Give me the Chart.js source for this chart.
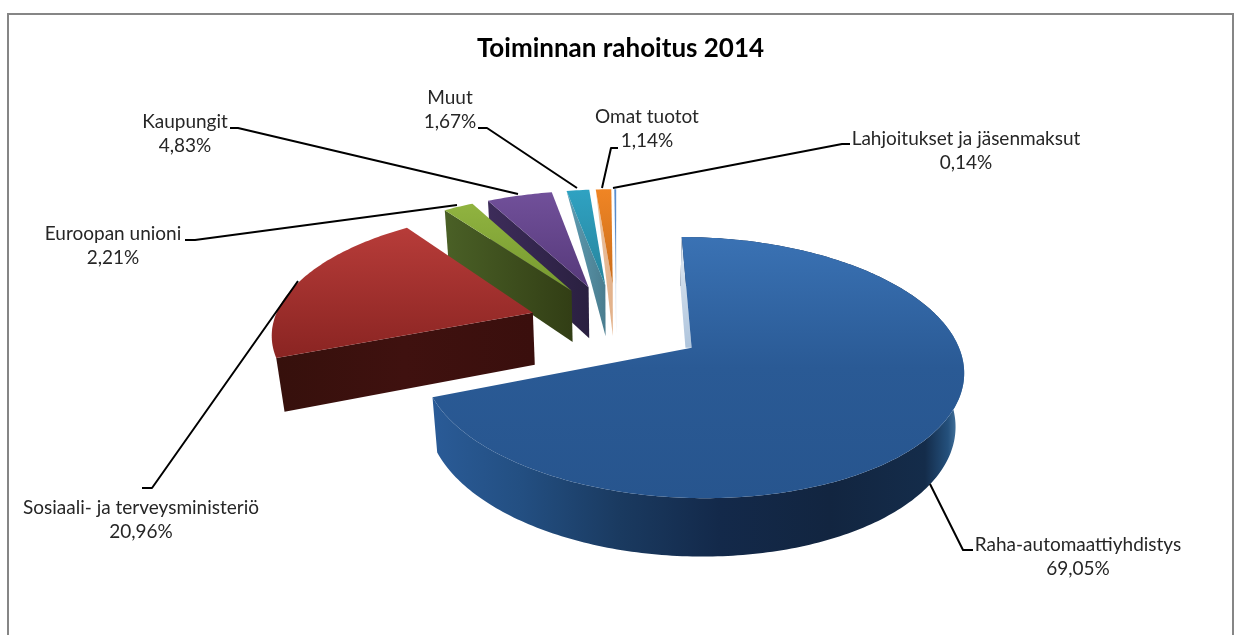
<!DOCTYPE html>
<html><head><meta charset="utf-8">
<style>html,body{margin:0;padding:0;background:#fff}#w{width:1235px;height:635px}</style>
<script src="https://cdn.jsdelivr.net/npm/chart.js@4"></script>
</head><body><div id="w"><canvas id="c" width="1235" height="635"></canvas></div>
<script>
const titleText = 'Toiminnan rahoitus 2014';
const categories = ['Raha-automaattiyhdistys','Sosiaali- ja terveysministeriö','Euroopan unioni','Kaupungit','Muut','Omat tuotot','Lahjoitukset ja jäsenmaksut'];
const values = [69.05,20.96,2.21,4.83,1.67,1.14,0.14];
const baseColors = ['#2c5c98','#a02f2d','#86a93c','#654a8c','#2c96b4','#e67e22','#4f81bd'];

const topGrad = [['#3a72b4','#2a5a95','#27558e'],['#b73c39','#8a2422'],['#90b340','#76992f'],['#71509a','#56397a'],['#2fa2c2','#27849c'],['#f08524','#c96d1c'],['#5b8fd0','#4f81bd']];
const wallGrad = [null,['#36100c','#3f110f','#3a0f0d'],['#4a6026','#323e15'],['#3d2c5a','#2a2040'],['#5f9db3','#4a7d8f'],['#ecc4a2','#e2b18a'],['#cfdced','#c0d0e4']];
const blueWallStops = [[432,'#2a5b97'],[520,'#234f82'],[620,'#1a3a60'],[720,'#13294a'],[830,'#122540'],[925,'#142c4a'],[948,'#24507c'],[958,'#4a78a0']];
const labelPos = [[1078,545],[141,508],[113,234],[185,122],[450,98],[647,117],[966,139]];
const leaders = [
 [[930,484],[963,550],[973,550]],
 [[298,281],[152,488],[142,488]],
 [[457,205],[195,240],[185,240]],
 [[518,194],[238,128],[230,128]],
 [[577,188],[487,128],[478,128]],
 [[602,188],[611,148],[618,148]],
 [[613,188],[842,144],[850,144]]
];
const P = {explode:.34, persp:.147, tilt:121/261, depth:54/261, shrink:.024, shiftX:-4};

function project(a,u,v,z){
  const s = 1/(1 - P.persp*v + P.shrink*z), R = a.outerRadius;
  return {x:a.x + P.shiftX + R*u*s, y:a.y + R*(P.tilt*v + P.depth*z)*s};
}
function pt(a,th,r,z,mid){
  const u = P.explode*Math.cos(mid) + r*Math.cos(th);
  const v = P.explode*Math.sin(mid) + r*Math.sin(th);
  return project(a,u,v,z);
}
function path(ctx,pts){ctx.beginPath();pts.forEach((p,i)=>i?ctx.lineTo(p.x,p.y):ctx.moveTo(p.x,p.y));ctx.closePath();}
function vGrad(ctx,y0,y1,cols){const g=ctx.createLinearGradient(0,y0,0,y1);cols.forEach((c,i)=>g.addColorStop(i/(cols.length-1),c));return g;}
function hGrad(ctx,x0,x1,cols){const g=ctx.createLinearGradient(x0,0,x1,0);cols.forEach((c,i)=>g.addColorStop(i/(cols.length-1),c));return g;}

const pie3d = {
  id:'pie3d',
  beforeDraw(chart){
    const ctx=chart.ctx;ctx.save();ctx.fillStyle='#fff';ctx.fillRect(0,0,1235,635);
    ctx.strokeStyle='#868686';ctx.lineWidth=2;ctx.beginPath();ctx.moveTo(8,640);ctx.lineTo(8,14);ctx.lineTo(1233,14);ctx.lineTo(1233,640);ctx.stroke();ctx.restore();
  },
  beforeDatasetsDraw(chart){
    const ctx=chart.ctx, arcs=chart.getDatasetMeta(0).data;
    const order=[6,5,4,3,2,1,0];
    ctx.save();
    order.forEach(i=>{
      const a=arcs[i], s=a.startAngle, e=a.endAngle, mid=(s+e)/2, n=Math.max(2,Math.ceil((e-s)*60));
      const rim=[],rimB=[];
      for(let k=0;k<=n;k++){const th=s+(e-s)*k/n;rim.push(pt(a,th,1,0,mid));rimB.push(pt(a,th,1,1,mid));}
      const tip=pt(a,s,0,0,mid), tipB=pt(a,s,0,1,mid);
      if(i===0){
        const g=ctx.createLinearGradient(432,0,958,0);
        blueWallStops.forEach(([x,c])=>g.addColorStop((x-432)/(958-432),c));
        ctx.fillStyle=g;path(ctx,rim.concat(rimB.slice().reverse()));ctx.fill();
        const A=rim[0],Ab=rimB[0],t=(tip.y-Ab.y)/(tipB.y-Ab.y),cut={x:Ab.x+(tipB.x-Ab.x)*t,y:tip.y};
        const wg=ctx.createLinearGradient(0,A.y,0,tip.y);wg.addColorStop(0,'#e4ecf5');wg.addColorStop(1,'#aec4dc');
        ctx.fillStyle=wg;path(ctx,[A,tip,cut,Ab]);ctx.fill();
      } else {
        ctx.fillStyle=hGrad(ctx,Math.min(rim[0].x,tip.x),Math.max(rim[0].x,tip.x),wallGrad[i]);
        path(ctx,i>=4?[rim[0],tip,tipB]:[rim[0],tip,tipB,rimB[0]]);ctx.fill();
      }
      const ys=rim.map(p=>p.y).concat(tip.y);
      ctx.fillStyle=vGrad(ctx,Math.min(...ys),Math.max(...ys),topGrad[i]);
      path(ctx,rim.concat(tip));ctx.fill();
    });
    ctx.restore();
    return false;
  },
  afterDraw(chart){
    const ctx=chart.ctx;
    ctx.save();ctx.strokeStyle='#000';ctx.lineWidth=2;ctx.lineJoin='round';
    leaders.forEach(l=>{ctx.beginPath();l.forEach((p,i)=>i?ctx.lineTo(p[0],p[1]):ctx.moveTo(p[0],p[1]));ctx.stroke();});
    ctx.fillStyle='#262626';ctx.font='19px Lato';ctx.textAlign='center';ctx.textBaseline='middle';
    categories.forEach((c,i)=>{
      const [x,y]=labelPos[i];
      ctx.fillText(c,x,y);
      ctx.fillText(values[i].toFixed(2).replace('.',',')+'%',x,y+24);
    });
    ctx.restore();
  }
};

new Chart(document.getElementById('c'),{
  type:'pie',
  plugins:[pie3d],
  data:{labels:categories,datasets:[{data:values,backgroundColor:baseColors,borderWidth:0}]},
  options:{
    responsive:false,animation:false,
    layout:{padding:{top:33,bottom:51,left:6,right:0}},
    plugins:{
      legend:{display:false},tooltip:{enabled:false},
      title:{display:true,text:titleText,color:'#000',font:{family:'Lato',size:26,weight:'bold'},padding:{top:0,bottom:0}}
    }
  }
});
</script></body></html>
